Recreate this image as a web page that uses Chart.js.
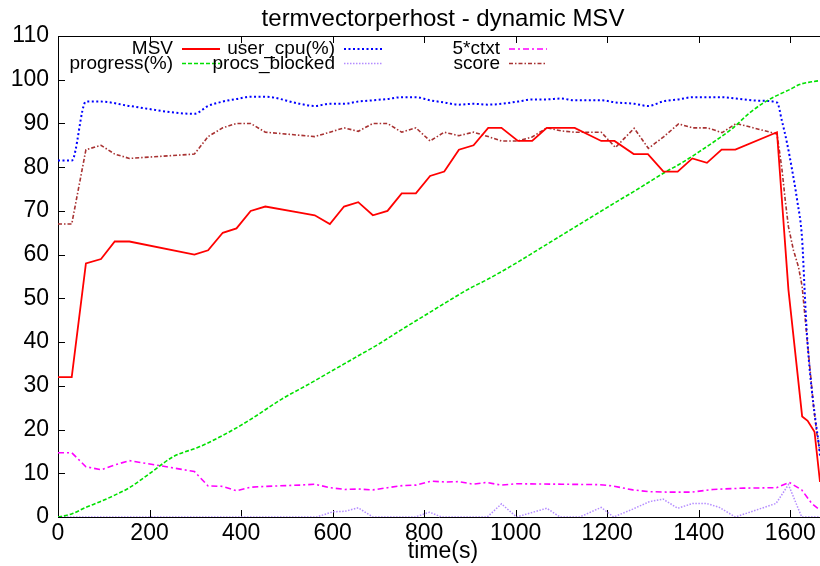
<!DOCTYPE html>
<html>
<head>
<meta charset="utf-8">
<title>termvectorperhost - dynamic MSV</title>
<script src="https://cdn.jsdelivr.net/npm/chart.js@4.4.1/dist/chart.umd.min.js"></script>
<style>
  html, body { margin: 0; padding: 0; background: #fff; }
  canvas { display: block; }
</style>
</head>
<body>
<canvas id="chart" width="820" height="566"></canvas>
<script>
// values (time in seconds)
const msvTime = [0, 30, 61, 94, 124, 156, 298, 328, 360, 390, 421, 453, 528, 561, 594, 625, 656, 688, 720, 751, 782, 813, 844, 876, 908, 940, 969, 1005, 1036, 1068, 1099, 1129, 1187, 1216, 1258, 1289, 1323, 1354, 1386, 1418, 1450, 1480, 1571, 1596, 1626, 1638, 1653, 1665];
const msvValues = [32, 32, 58, 59, 63, 63, 60, 61, 65, 66, 70, 71, 69.6, 69, 67, 71, 72, 69, 70, 74, 74, 78, 79, 84, 85, 89, 89, 86, 86, 89, 89, 89, 86, 86, 83, 83, 79, 79, 82, 81, 84, 84, 88, 52, 23, 22, 19.5, 8];

const progressTime = [0, 30, 61, 92, 124, 156, 201, 252, 310, 375, 419, 488, 550, 600, 650, 700, 750, 800, 850, 900, 936, 1000, 1050, 1100, 1150, 1183, 1227, 1256, 1290, 1329, 1360, 1402, 1440, 1474, 1511, 1540, 1569, 1600, 1620, 1640, 1665];
const progressValues = [0, 0.7, 2.2, 3.5, 5, 6.7, 10, 13.8, 16.1, 19.5, 22.2, 26.9, 30.5, 33.5, 36.5, 39.5, 42.8, 46, 49.2, 52.3, 54.2, 58, 61.2, 64.4, 67.6, 69.7, 72.5, 74.3, 76.5, 79, 80.8, 83.6, 86.3, 88.9, 92.4, 94.6, 96.3, 97.8, 98.9, 99.4, 99.8];

const cpuTime = [0, 30, 61, 94, 156, 298, 328, 360, 390, 421, 453, 528, 561, 594, 625, 656, 688, 720, 751, 782, 813, 844, 876, 908, 940, 969, 1005, 1036, 1068, 1099, 1129, 1161, 1187, 1219, 1259, 1290, 1324, 1356, 1387, 1420, 1450, 1482, 1534, 1571, 1582, 1593, 1604, 1615, 1626, 1631, 1635, 1640, 1647, 1655, 1662, 1665];
const cpuValues = [81.5, 81.5, 95, 95, 94, 92.2, 94, 95, 95.6, 96.1, 96.1, 94.5, 94, 94.5, 94.5, 95, 95.3, 95.6, 96, 96, 95.3, 94.8, 94.3, 94.5, 94.3, 94.5, 95, 95.5, 95.5, 95.7, 95.3, 95.3, 95.3, 94.8, 94.5, 94, 95.1, 95.5, 96, 96, 96, 95.7, 95.2, 94.8, 90.5, 85.5, 79.4, 72.5, 63.4, 52.7, 44.3, 36.7, 29.1, 22.2, 16.9, 14];

const blockedTime = [0, 565, 601, 627, 656, 688, 780, 812, 838, 938, 969, 1002, 1068, 1097, 1140, 1187, 1214, 1256, 1292, 1322, 1354, 1387, 1417, 1445, 1480, 1569, 1596, 1625, 1665];
const blockedValues = [0, 0, 1.2, 1.3, 2.1, 0, 0, 1.1, 0, 0, 3.0, 0, 2.0, 0, 0, 2.2, 0, 1.8, 3.5, 4.1, 2.0, 3.1, 3.1, 2.2, 0, 3.1, 7.4, 0, 0];

const ctxtTime = [0, 30, 61, 94, 124, 156, 298, 328, 360, 390, 421, 453, 528, 561, 594, 627, 656, 688, 720, 754, 783, 816, 848, 876, 907, 936, 969, 1002, 1100, 1183, 1212, 1256, 1290, 1329, 1386, 1431, 1498, 1570, 1598, 1625, 1647, 1665];
const ctxtValues = [14.7, 14.7, 11.5, 10.8, 11.9, 12.9, 10.4, 7.1, 7.0, 6.0, 6.8, 7.0, 7.3, 7.5, 6.7, 6.3, 6.4, 6.2, 6.7, 7.2, 7.3, 8.2, 8.0, 8.1, 7.5, 7.9, 7.3, 7.6, 7.5, 7.4, 7.1, 6.2, 5.8, 5.7, 5.7, 6.3, 6.6, 6.7, 7.9, 6.2, 3.1, 1.6];

const scoreTime = [0, 30, 61, 94, 124, 156, 298, 328, 360, 390, 421, 453, 528, 561, 594, 625, 656, 688, 720, 751, 782, 813, 844, 876, 908, 940, 969, 1005, 1036, 1068, 1099, 1129, 1160, 1187, 1218, 1259, 1290, 1324, 1356, 1387, 1419, 1451, 1482, 1571, 1577, 1582, 1589, 1596, 1607, 1618, 1626, 1637, 1644, 1651, 1658, 1665];
const scoreValues = [67, 67, 84, 85, 83, 82, 83, 87, 89, 90, 90, 88, 87.3, 87, 88, 89, 88.2, 90, 90, 88, 89, 86, 88, 87.2, 88, 87, 86, 86, 86.9, 89, 88.3, 88, 88, 88, 84.5, 88.9, 84.3, 87, 89.9, 89, 89, 87.9, 90, 87.6, 83.2, 79.4, 72.5, 66.4, 61, 57.2, 52.7, 40.5, 32.9, 25.2, 19.2, 15];

const xTickValues = [0, 200, 400, 600, 800, 1000, 1200, 1400, 1600];
const yTickValues = [0, 10, 20, 30, 40, 50, 60, 70, 80, 90, 100, 110];

const chartTitle = 'termvectorperhost - dynamic MSV';
const xTitle = 'time(s)';

const FONT = "'Liberation Sans', Arial, Helvetica, sans-serif";

function points(ts, vs) {
  return ts.map((t, i) => ({ x: t, y: vs[i] }));
}

// gnuplot look: inward ticks, top border, title, key
const gnuplotFrame = {
  id: 'gnuplotFrame',
  beforeDatasetsDraw(chart) {
    const { ctx, chartArea: a, scales: { x, y } } = chart;
    ctx.save();
    ctx.strokeStyle = '#000';
    ctx.lineWidth = 1;
    ctx.beginPath();
    ctx.moveTo(a.left, a.top + 0.5);
    ctx.lineTo(a.right, a.top + 0.5);
    x.ticks.forEach(t => {
      const px = Math.round(x.getPixelForValue(t.value)) + 0.5;
      ctx.moveTo(px, a.bottom);
      ctx.lineTo(px, a.bottom - 7);
      ctx.moveTo(px, a.top);
      ctx.lineTo(px, a.top + 7);
    });
    y.ticks.forEach(t => {
      const py = Math.round(y.getPixelForValue(t.value)) + 0.5;
      ctx.moveTo(a.left, py);
      ctx.lineTo(a.left + 7, py);
    });
    ctx.stroke();
    ctx.restore();
  },
  afterDraw(chart) {
    const ctx = chart.ctx;
    ctx.save();
    ctx.fillStyle = '#000';
    ctx.textBaseline = 'alphabetic';

    // title and x axis title
    ctx.font = '24px ' + FONT;
    ctx.textAlign = 'center';
    ctx.fillText(chartTitle, 443, 26);
    ctx.font = '23px ' + FONT;
    ctx.fillText(xTitle, 443, 558);

    // key: 3 columns x 2 rows, filled column by column
    ctx.font = '19px ' + FONT;
    ctx.textAlign = 'right';
    const colText = [173, 335, 500];
    const rowBase = [54, 68.5];
    chart.data.datasets.forEach((ds, i) => {
      const col = Math.floor(i / 2), row = i % 2;
      const tx = colText[col], ty = rowBase[row];
      ctx.fillText(ds.label, tx, ty);
      ctx.save();
      ctx.strokeStyle = ds.borderColor;
      ctx.lineWidth = ds.borderWidth;
      ctx.setLineDash(ds.borderDash || []);
      ctx.beginPath();
      ctx.moveTo(tx + 9, ty - 5);
      ctx.lineTo(tx + 47, ty - 5);
      ctx.stroke();
      ctx.restore();
    });
    ctx.restore();
  }
};

new Chart(document.getElementById('chart'), {
  type: 'line',
  data: {
    datasets: [
      { label: 'MSV', data: points(msvTime, msvValues), borderColor: '#ff0000', borderWidth: 1.8 },
      { label: 'progress(%)', data: points(progressTime, progressValues), borderColor: '#00e000', borderWidth: 1.6, borderDash: [4, 2], cubicInterpolationMode: 'monotone' },
      { label: 'user_cpu(%)', data: points(cpuTime, cpuValues), borderColor: '#0000ff', borderWidth: 2, borderDash: [2, 2.5], cubicInterpolationMode: 'monotone' },
      { label: 'procs_blocked', data: points(blockedTime, blockedValues), borderColor: '#b48cff', borderWidth: 1.5, borderDash: [1.5, 1.5] },
      { label: '5*ctxt', data: points(ctxtTime, ctxtValues), borderColor: '#ff00ff', borderWidth: 1.6, borderDash: [6, 3, 2, 3] },
      { label: 'score', data: points(scoreTime, scoreValues), borderColor: '#a83232', borderWidth: 1.6, borderDash: [4, 2, 1.5, 2] }
    ]
  },
  options: {
    responsive: false,
    animation: false,
    layout: { padding: { top: 36, left: 0, right: 0, bottom: 0 } },
    elements: { point: { radius: 0 }, line: { tension: 0 } },
    plugins: {
      legend: { display: false },
      title: { display: false },
      tooltip: { enabled: false }
    },
    scales: {
      x: {
        type: 'linear',
        min: 0,
        max: 1665,
        afterBuildTicks: s => { s.ticks = xTickValues.map(v => ({ value: v })); },
        afterFit: s => { s.height = 49; },
        grid: { display: false, drawTicks: false },
        border: { display: true, color: '#000', width: 1 },
        ticks: { color: '#000', font: { family: FONT, size: 23 }, padding: 3, maxRotation: 0, autoSkip: false, callback: v => String(v) }
      },
      y: {
        min: 0,
        max: 110,
        afterBuildTicks: s => { s.ticks = yTickValues.map(v => ({ value: v })); },
        afterFit: s => { s.width = 58; },
        grid: { display: false, drawTicks: false },
        border: { display: true, color: '#000', width: 1 },
        ticks: { color: '#000', font: { family: FONT, size: 23 }, padding: 9, autoSkip: false, callback: v => String(v) }
      }
    }
  },
  plugins: [gnuplotFrame]
});
</script>
</body>
</html>
